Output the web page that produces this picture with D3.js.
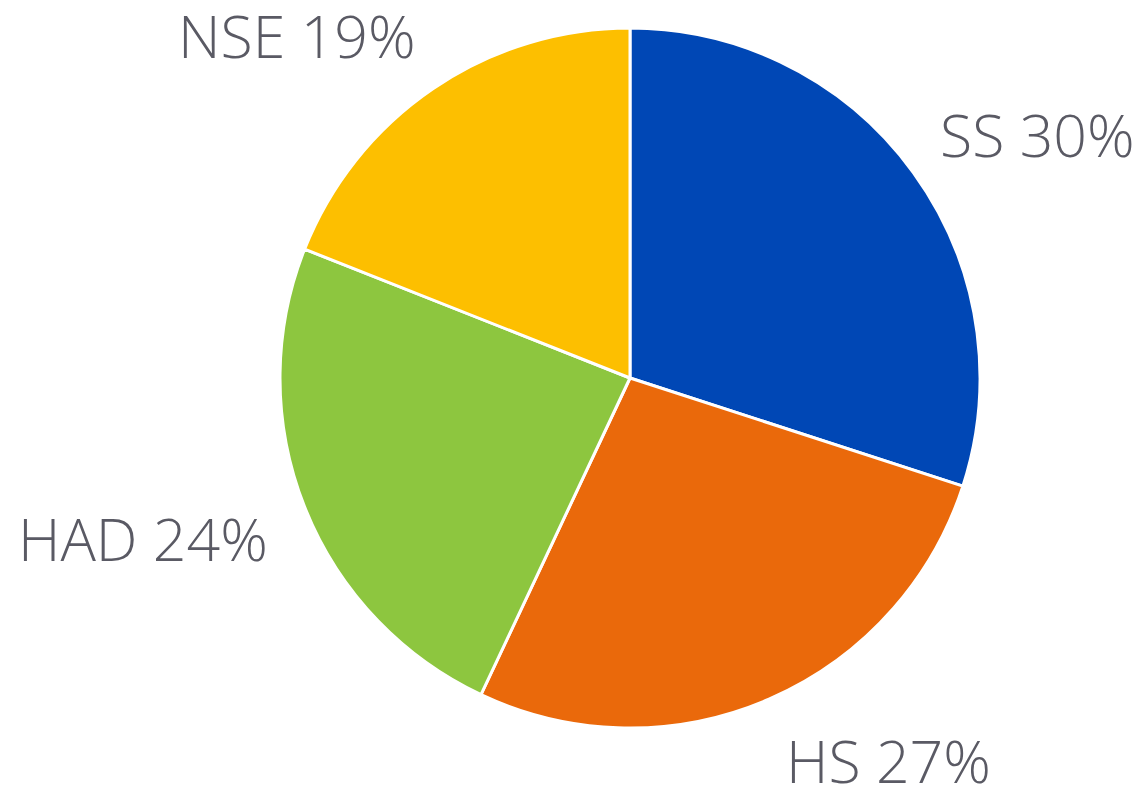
<!DOCTYPE html>
<html>
<head>
<meta charset="utf-8">
<script src="https://cdn.jsdelivr.net/npm/d3@7"></script>
<style>
html,body{margin:0;padding:0;background:#fff;}
svg{display:block;}
</style>
</head>
<body>
<svg id="chart" width="1145" height="793"></svg>
<script>
const categories = ["SS", "HS", "HAD", "NSE"];
const values = [30, 27, 24, 19];
const colors = ["#0047B5", "#EA690B", "#8DC63F", "#FDBF00"];
// label anchor points (left x, baseline y) in page pixels
const labelX = [940, 786, 18, 178];
const labelY = [157, 783, 561, 58];

const W = 1145, H = 793;
const cx = 630, cy = 378, R = 350;
const svg = d3.select("#chart");
const g = svg.append("g").attr("transform", `translate(${cx},${cy})`);

const data = categories.map((c, i) => ({cat: c, value: values[i], color: colors[i], i}));
const pie = d3.pie().value(d => d.value).sort(null);
const arc = d3.arc().innerRadius(0).outerRadius(R);

g.selectAll("path").data(pie(data)).join("path")
  .attr("d", arc)
  .attr("fill", d => d.data.color)
  .attr("stroke", "#fff")
  .attr("stroke-width", 3)
  .attr("stroke-linejoin", "round");

svg.selectAll("text.lbl").data(data).join("text")
  .attr("class", "lbl")
  .attr("x", d => labelX[d.i])
  .attr("y", d => labelY[d.i])
  .attr("font-family", "'Open Sans', 'Segoe UI', sans-serif")
  .attr("font-weight", 300)
  .attr("font-size", 59)
  .attr("fill", "#5A5A64")
  .text(d => `${d.cat} ${d.value}%`);
</script>
</body>
</html>
